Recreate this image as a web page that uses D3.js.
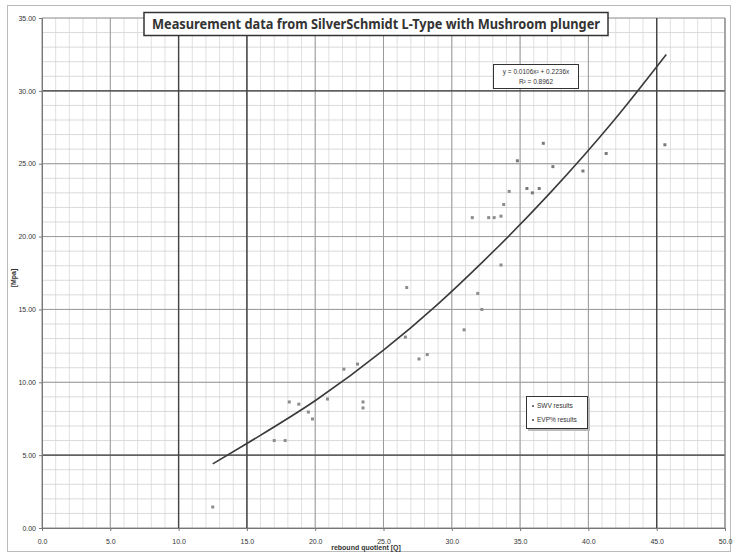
<!DOCTYPE html>
<html>
<head>
<meta charset="utf-8">
<script src="https://cdn.jsdelivr.net/npm/d3@7"></script>
<style>
    body { margin: 0; background: #ffffff; }
    svg { display: block; }
    text { font-family: "Liberation Sans", Arial, sans-serif; fill: #333; }
    .tick-label { font-size: 7px; }
</style>
</head>
<body>
<svg id="chart" width="735" height="555"></svg>
<script>
    // tick labels
    const xTicks = [0, 5, 10, 15, 20, 25, 30, 35, 40, 45, 50];
    const yTicks = [0, 5, 10, 15, 20, 25, 30, 35];

    // threshold lines drawn heavy
    const xLimits = [10, 15, 45];
    const yLimits = [5, 30];

    // measurements, rebound quotient Q vs strength MPa
    const swvQ = [12.5, 17.0, 17.8, 18.1, 18.8, 19.5, 19.8, 20.9, 22.1, 23.1, 23.5, 23.5, 26.7, 26.6,
        27.6, 28.2, 30.9, 31.9, 32.2, 33.6, 31.5, 32.7, 33.1, 33.6, 33.8, 34.2];
    const swvMpa = [1.44, 6.0, 6.0, 8.65, 8.5, 7.96, 7.48, 8.85, 10.9, 11.25, 8.65, 8.24, 16.5, 13.1,
        11.6, 11.9, 13.6, 16.1, 15.0, 18.05, 21.3, 21.3, 21.3, 21.4, 22.2, 23.1];
    const evQ = [35.5, 35.9, 36.4, 34.8, 37.4, 36.7, 39.6, 41.3, 45.6];
    const evMpa = [23.3, 23.0, 23.3, 25.2, 24.8, 26.4, 24.5, 25.7, 26.3];

    // polynomial trendline, points
    const trendQ = [12.5, 15.0, 20.1, 25.0, 28.9, 32.3, 37.2, 41.8, 45.7];
    const trendMpa = [4.4, 5.8, 8.8, 12.2, 15.3, 18.3, 23.0, 27.9, 32.5];

    const titleText = "Measurement data from SilverSchmidt L-Type with Mushroom plunger";
    const equationText = ["y = 0.0106x\u00B2 + 0.2236x", "R\u00B2 = 0.8962"];
    const legendText = ["SWV results", "EVP% results"];

    const svg = d3.select("#chart");

    const plotLeft = 42, plotRight = 725, plotTop = 18, plotBottom = 528;

    const x = d3.scaleLinear().domain([0, 50]).range([plotLeft, plotRight]);
    const y = d3.scaleLinear().domain([0, 35]).range([plotBottom, plotTop]);

    // outer chart frame
    svg.append("rect")
        .attr("x", 7.5).attr("y", 5.5)
        .attr("width", 723).attr("height", 546)
        .attr("fill", "#fff")
        .attr("stroke", "#bbb");

    const grid = svg.append("g");

    // minor grid
    const xMinor = d3.range(0, 50.001, 1);
    const yMinor = d3.range(0, 35.001, 1);

    grid.selectAll(".xminor")
        .data(xMinor)
        .enter()
        .append("line")
        .attr("x1", d => x(d)).attr("x2", d => x(d))
        .attr("y1", plotTop).attr("y2", plotBottom)
        .attr("stroke", "#d8d8d8")
        .attr("stroke-width", 0.8);

    grid.selectAll(".yminor")
        .data(yMinor)
        .enter()
        .append("line")
        .attr("x1", plotLeft).attr("x2", plotRight)
        .attr("y1", d => y(d)).attr("y2", d => y(d))
        .attr("stroke", "#d0d0d0")
        .attr("stroke-width", 0.8);

    // major grid
    grid.selectAll(".xmajor")
        .data(xTicks)
        .enter()
        .append("line")
        .attr("x1", d => x(d)).attr("x2", d => x(d))
        .attr("y1", plotTop).attr("y2", plotBottom)
        .attr("stroke", "#9a9a9a")
        .attr("stroke-width", 1);

    grid.selectAll(".ymajor")
        .data(yTicks)
        .enter()
        .append("line")
        .attr("x1", plotLeft).attr("x2", plotRight)
        .attr("y1", d => y(d)).attr("y2", d => y(d))
        .attr("stroke", "#9a9a9a")
        .attr("stroke-width", 1);

    // limit lines
    grid.selectAll(".xlimit")
        .data(xLimits)
        .enter()
        .append("line")
        .attr("x1", d => x(d)).attr("x2", d => x(d))
        .attr("y1", plotTop).attr("y2", plotBottom)
        .attr("stroke", "#444")
        .attr("stroke-width", 1.4);

    grid.selectAll(".ylimit")
        .data(yLimits)
        .enter()
        .append("line")
        .attr("x1", plotLeft).attr("x2", plotRight)
        .attr("y1", d => y(d)).attr("y2", d => y(d))
        .attr("stroke", "#444")
        .attr("stroke-width", 1.4);

    // axes
    const xAxis = svg.append("g")
        .attr("transform", `translate(0,${plotBottom})`)
        .call(d3.axisBottom(x).tickValues(xTicks).tickSize(3).tickFormat(d3.format(".1f")));
    const yAxis = svg.append("g")
        .attr("transform", `translate(${plotLeft},0)`)
        .call(d3.axisLeft(y).tickValues(yTicks).tickSize(3).tickFormat(d3.format(".2f")));

    [xAxis, yAxis].forEach(a => {
        a.select(".domain").attr("stroke", "#777");
        a.selectAll(".tick line").attr("stroke", "#777");
        a.selectAll(".tick text")
            .attr("class", "tick-label")
            .attr("fill", "#444")
            .style("font-family", "Liberation Sans, Arial, sans-serif");
    });
    xAxis.selectAll(".tick text").attr("dy", "1.4em");

    // right border of the plot
    svg.append("line")
        .attr("x1", plotRight).attr("x2", plotRight)
        .attr("y1", plotTop).attr("y2", plotBottom)
        .attr("stroke", "#888");

    // trendline
    const trendLine = d3.line()
        .x(d => x(d[0]))
        .y(d => y(d[1]))
        .curve(d3.curveMonotoneX);

    svg.append("path")
        .datum(d3.zip(trendQ, trendMpa))
        .attr("d", trendLine)
        .attr("fill", "none")
        .attr("stroke", "#3a3a3a")
        .attr("stroke-width", 1.6);

    // points
    svg.selectAll(".swv")
        .data(d3.zip(swvQ, swvMpa))
        .enter()
        .append("rect")
        .attr("x", d => x(d[0]) - 1.5)
        .attr("y", d => y(d[1]) - 1.5)
        .attr("width", 3).attr("height", 3)
        .attr("fill", "#8c8c8c");

    svg.selectAll(".ev")
        .data(d3.zip(evQ, evMpa))
        .enter()
        .append("rect")
        .attr("x", d => x(d[0]) - 1.5)
        .attr("y", d => y(d[1]) - 1.5)
        .attr("width", 3).attr("height", 3)
        .attr("fill", "#7a7a7a");

    // title box
    svg.append("rect")
        .attr("x", 144).attr("y", 12.5)
        .attr("width", 464).attr("height", 23)
        .attr("fill", "#fff")
        .attr("stroke", "#333")
        .attr("stroke-width", 1.5);
    svg.append("text")
        .attr("x", 376).attr("y", 29)
        .attr("text-anchor", "middle")
        .attr("textLength", 448)
        .attr("lengthAdjust", "spacingAndGlyphs")
        .style("font-family", "Noto Sans, sans-serif")
        .style("font-size", "14px")
        .style("font-weight", "bold")
        .attr("fill", "#222")
        .text(titleText);

    // equation box
    svg.append("rect")
        .attr("x", 493.5).attr("y", 64.5)
        .attr("width", 85).attr("height", 24)
        .attr("fill", "#fff")
        .attr("stroke", "#333");
    svg.selectAll(".eq")
        .data(equationText)
        .enter()
        .append("text")
        .attr("x", 536)
        .attr("y", (d, i) => 74 + i * 10)
        .attr("text-anchor", "middle")
        .style("font-size", "6.5px")
        .attr("fill", "#444")
        .text(d => d);

    // legend
    svg.append("rect")
        .attr("x", 528).attr("y", 398)
        .attr("width", 62).attr("height", 33)
        .attr("fill", "#bbb");
    svg.append("rect")
        .attr("x", 526.5).attr("y", 396.5)
        .attr("width", 61).attr("height", 32)
        .attr("fill", "#fff")
        .attr("stroke", "#333");
    const legend = svg.selectAll(".legend")
        .data(legendText)
        .enter()
        .append("g")
        .attr("transform", (d, i) => `translate(532,${406 + i * 14})`);
    legend.append("rect")
        .attr("x", 0).attr("y", -1)
        .attr("width", 2).attr("height", 2)
        .attr("fill", "#777");
    legend.append("text")
        .attr("x", 5).attr("y", 2)
        .style("font-size", "6.5px")
        .attr("fill", "#555")
        .text(d => d);

    // axis titles
    svg.append("text")
        .attr("transform", "translate(16,278) rotate(-90)")
        .attr("text-anchor", "middle")
        .style("font-size", "7px")
        .style("font-weight", "bold")
        .attr("fill", "#333")
        .text("[Mpa]");
    svg.append("text")
        .attr("x", 366).attr("y", 550)
        .attr("text-anchor", "middle")
        .style("font-size", "7px")
        .style("font-weight", "bold")
        .attr("fill", "#333")
        .text("rebound quotient [Q]");
</script>
</body>
</html>
